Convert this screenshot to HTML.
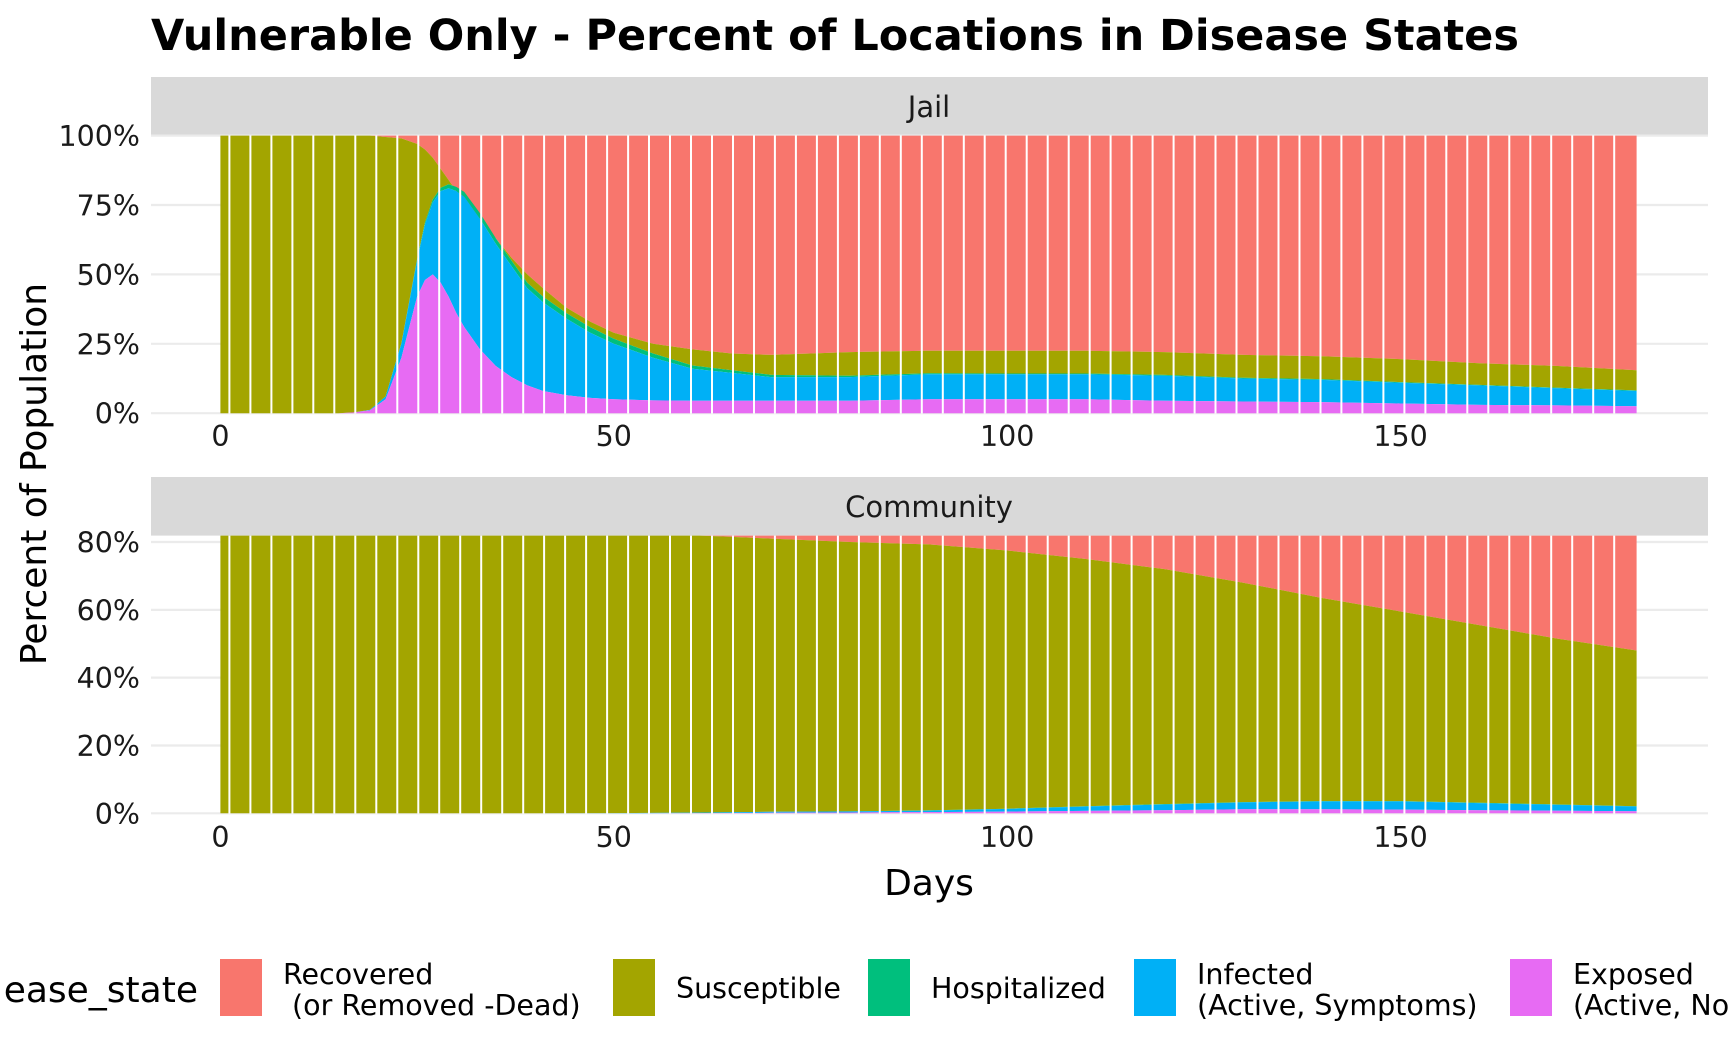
<!DOCTYPE html>
<html><head><meta charset="utf-8">
<style>
html,body{margin:0;padding:0;background:#fff;}
svg{display:block;font-family:"DejaVu Sans","Liberation Sans",sans-serif;}
</style></head>
<body>
<svg id="chart" width="1728" height="1056" viewBox="0 0 1728 1056">
<defs>
<clipPath id="clipJail"><rect x="151" y="135.5" width="1557" height="278"/></clipPath>
<clipPath id="clipComm"><rect x="151" y="535.6" width="1557" height="278"/></clipPath>
</defs>
<text x="151" y="50" font-size="43" font-weight="bold" fill="#000">Vulnerable Only - Percent of Locations in Disease States</text>
<rect x="151" y="77" width="1557" height="58.5" fill="#d9d9d9"/>
<text x="929" y="117" font-size="29" text-anchor="middle" fill="#1a1a1a">Jail</text>
<rect x="151" y="477" width="1557" height="58.6" fill="#d9d9d9"/>
<text x="929" y="517" font-size="29" text-anchor="middle" fill="#1a1a1a">Community</text>
<g id="jailGrid"></g><g id="commGrid"></g>
<g id="jailPanel" clip-path="url(#clipJail)"></g>
<g id="commPanel" clip-path="url(#clipComm)"></g>
<g id="axes"></g>
<text transform="translate(46,474) rotate(-90)" font-size="36" text-anchor="middle" fill="#000">Percent of Population</text>
<text x="929" y="895" font-size="36" text-anchor="middle" fill="#000">Days</text>
<g id="legend">
<text x="198" y="1002" font-size="36" text-anchor="end" fill="#000">ease_state</text>
</g>
</svg>
<script>
const NS="http://www.w3.org/2000/svg";
const jailDays=[0,15,17,19,21,23,25,26,27,28,29,30,31,33,35,37,39,41,44,47,50,55,60,65,70,80,90,100,110,120,130,140,150,160,170,180];
const jailExposed=[0,0,0.3,1,5,20,42,48,50,47,42,36,31,23,17,13,10,8,6.5,5.5,5,4.6,4.5,4.5,4.5,4.5,5,5,5,4.5,4.2,4,3.5,3,2.8,2.5];
const jailInfected=[0,0,0,0.2,1,5,13,20,26,33,39,44,47,47,44,40,35,32,27.5,23.5,20,15.4,11.5,10,8.5,8.5,9,9,9,9,8.3,8,7.5,7,6.2,5.5];
const jailHosp=[0,0,0,0,0,0.2,0.5,0.8,1,1.2,1.5,1.5,1.7,2,2,2,2,2,2,2,1.8,1.5,1.2,1,0.8,0.5,0.4,0.3,0.3,0.3,0.3,0.3,0.2,0.2,0.2,0.2];
const jailNotRecovered=[100,100,100,100,99.5,99,97,95,92,88,84,80,77,70,63,56,50,45,38,33,29,25,23,21.5,21,22,22.5,22.5,22.5,22,21,20.5,19.5,18,17,15.5];

const commDays=[0,40,50,60,65,70,80,90,100,110,120,130,140,150,160,170,180];
const commExposed=[0,0,0,0.05,0.1,0.15,0.25,0.35,0.5,0.7,0.9,1.2,1.2,1.1,0.9,0.75,0.6];
const commInfected=[0,0,0.05,0.15,0.2,0.3,0.3,0.45,0.8,1.3,1.7,2,2.3,2.4,2.1,1.75,1.4];
const commHosp=[0,0,0,0,0,0,0.02,0.05,0.05,0.1,0.1,0.1,0.1,0.1,0.1,0.1,0.1];
const commNotRecovered=[100,90,84,82,81.5,81,80,79.3,77.5,75,72,68,63.5,59.5,55.5,51.5,48];

const xTicks=[0,50,100,150];
const jailYTicks=[0,25,50,75,100];
const commYTicks=[0,20,40,60,80];
const legendLabels=[["Recovered"," (or Removed -Dead)"],["Susceptible"],["Hospitalized"],["Infected","(Active, Symptoms)"],["Exposed","(Active, No Symptoms)"]];
const colors={rec:"#F8766D",sus:"#A3A500",hosp:"#00BF7D",inf:"#00B0F6",exp:"#E76BF3"};

const xS=d=>220.4+d*7.868;
const jailY=p=>413.2-p*2.776;
const commY=p=>813.3-p*3.391;

function mk(tag,attrs,parent){const e=document.createElementNS(NS,tag);for(const k in attrs)e.setAttribute(k,attrs[k]);parent.appendChild(e);return e;}

function drawPanel(g,days,exp,inf,hosp,notRec,yS,prefix){
  const n=days.length;
  const c1=exp.slice(),c2=exp.map((v,i)=>v+inf[i]),c3=c2.map((v,i)=>v+hosp[i]);
  const layers=[
    {lo:notRec,hi:days.map(()=>100),col:colors.rec,name:"recovered"},
    {lo:c3,hi:notRec,col:colors.sus,name:"susceptible"},
    {lo:c2,hi:c3,col:colors.hosp,name:"hospitalized"},
    {lo:c1,hi:c2,col:colors.inf,name:"infected"},
    {lo:days.map(()=>0),hi:c1,col:colors.exp,name:"exposed"}];
  layers.forEach(L=>{
    let d="";
    for(let i=0;i<n;i++)d+=(i?"L":"M")+xS(days[i]).toFixed(1)+","+yS(L.hi[i]).toFixed(1);
    for(let i=n-1;i>=0;i--)d+="L"+xS(days[i]).toFixed(1)+","+yS(L.lo[i]).toFixed(1);
    const p=mk("path",{d:d+"Z",fill:L.col},g);
    
    
  });
  const x0=xS(days[0]),x1=xS(days[n-1]);
  const step=(x1-x0)/67.5;
  for(let x=x0+step*0.43;x<x1-2;x+=step){
    const l=mk("rect",{x:(x-1).toFixed(1),y:yS(100)-5,width:2,height:yS(0)-yS(100)+10,fill:"#fff"},g);
    
    
  }
}

function drawGrid(g,ticks,yS,prefix){
  ticks.forEach(t=>{
    const y=yS(t);
    const ln=mk("line",{x1:151,x2:1708,y1:y,y2:y,stroke:"#ebebeb","stroke-width":2.2},g);
    
    
  });
  const ax=document.getElementById("axes");
  ticks.forEach(t=>{
    const tx=mk("text",{x:140,y:yS(t)+10.5,"font-size":28.5,"text-anchor":"end",fill:"#1a1a1a"},ax);
    tx.textContent=t+"%";
    
    
  });
}

drawGrid(document.getElementById("jailGrid"),jailYTicks,jailY,"jail");
drawGrid(document.getElementById("commGrid"),commYTicks,commY,"community");
drawPanel(document.getElementById("jailPanel"),jailDays,jailExposed,jailInfected,jailHosp,jailNotRecovered,jailY,"jail");
drawPanel(document.getElementById("commPanel"),commDays,commExposed,commInfected,commHosp,commNotRecovered,commY,"community");

const ax=document.getElementById("axes");
[[446,"jail"],[847,"community"]].forEach(([y,pre])=>{
  xTicks.forEach(t=>{
    const tx=mk("text",{x:xS(t),y:y,"font-size":28.5,"text-anchor":"middle",fill:"#1a1a1a"},ax);
    tx.textContent=t;
    
    
  });
});

const lg=document.getElementById("legend");
const boxX=[220,613,868,1134,1510];
const keys=["rec","sus","hosp","inf","exp"];
legendLabels.forEach((lab,i)=>{
  const r=mk("rect",{x:boxX[i],y:959,width:42,height:57,fill:colors[keys[i]]},lg);
  
  
  const single=lab.length===1;
  const tx=mk("text",{x:boxX[i]+63,y:single?998:984,"font-size":28.5,fill:"#000"},lg);
  
  
  tx.setAttribute("xml:space","preserve");
  if(single){tx.textContent=lab[0];}
  else{
    lab.forEach((s,j)=>{const ts=mk("tspan",{x:boxX[i]+63,dy:j?31:0},tx);ts.textContent=s;});
  }
});
</script>
</body></html>
